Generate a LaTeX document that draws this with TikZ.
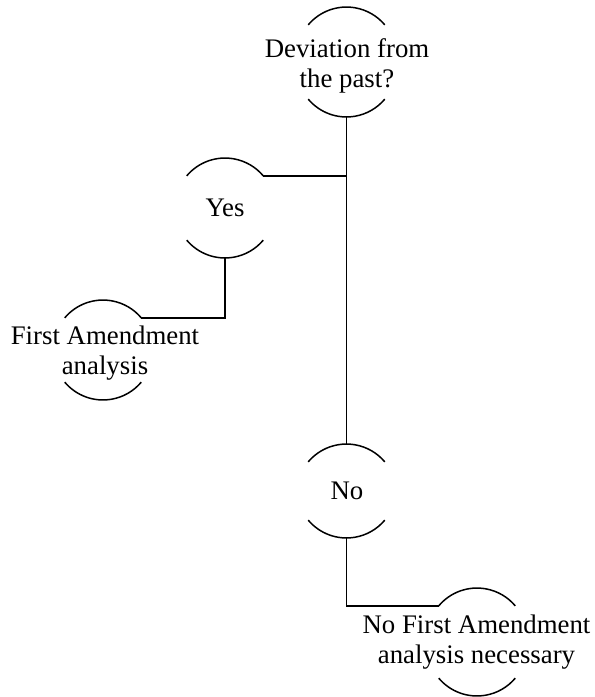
\documentclass[tikz,border=0pt]{standalone}
\usepackage{fontspec}
\setmainfont{Liberation Serif}
\usetikzlibrary{calc}

% Top and bottom caps of a decision circle.
% #1 name, #2 centre x, #3 y of top of upper cap, #4 y of bottom of lower cap
\newcommand\caparcs[4]{%
  \coordinate (#1-top) at (#2,-#3);
  \coordinate (#1-bot) at (#2,-#4);
  \coordinate (#1-tl) at ($(#1-top)+(-38.3,-17.9)$);
  \coordinate (#1-tr) at ($(#1-top)+(38.3,-17.9)$);
  \draw[caparc] (#1-tl) arc (140:40:50);
  \draw[caparc] ($(#1-bot)+(-38.3,17.9)$) arc (220:320:50);
}

\begin{document}
\begin{tikzpicture}[x=0.5pt,y=0.5pt,
  caparc/.style={line width=0.75pt},
  link/.style={line width=0.9pt},
  label/.style={align=center,inner sep=0pt,
    font=\fontsize{13.4}{14.8}\selectfont}]
\useasboundingbox (0,0) rectangle (595,-697);

% question and answers
\node[label] (dev) at (347,-66) {Deviation from\\the past?};
\node[label] (yes) at (225,-208) {Yes};
\node[label] (fa) at (105,-353) {First Amendment\\analysis};
\node[label] (no) at (347,-491) {No};
\node[label] (nofa) at (476.5,-642) {No First Amendment\\analysis necessary};

\caparcs{dev}{346.5}{7}{117}
\caparcs{yes}{225}{158}{258}
\caparcs{fa}{103}{300}{400}
\caparcs{no}{346.5}{444}{538}
\caparcs{nofa}{477}{588}{696}

% connectors
\draw[link] (dev-bot) -- (no-top);
\draw[link] (yes-tr) -- (yes-tr -| dev-bot);
\draw[link] (yes-bot) |- (fa-tr);
\draw[link] (no-bot) |- (nofa-tl);
\end{tikzpicture}
\end{document}
